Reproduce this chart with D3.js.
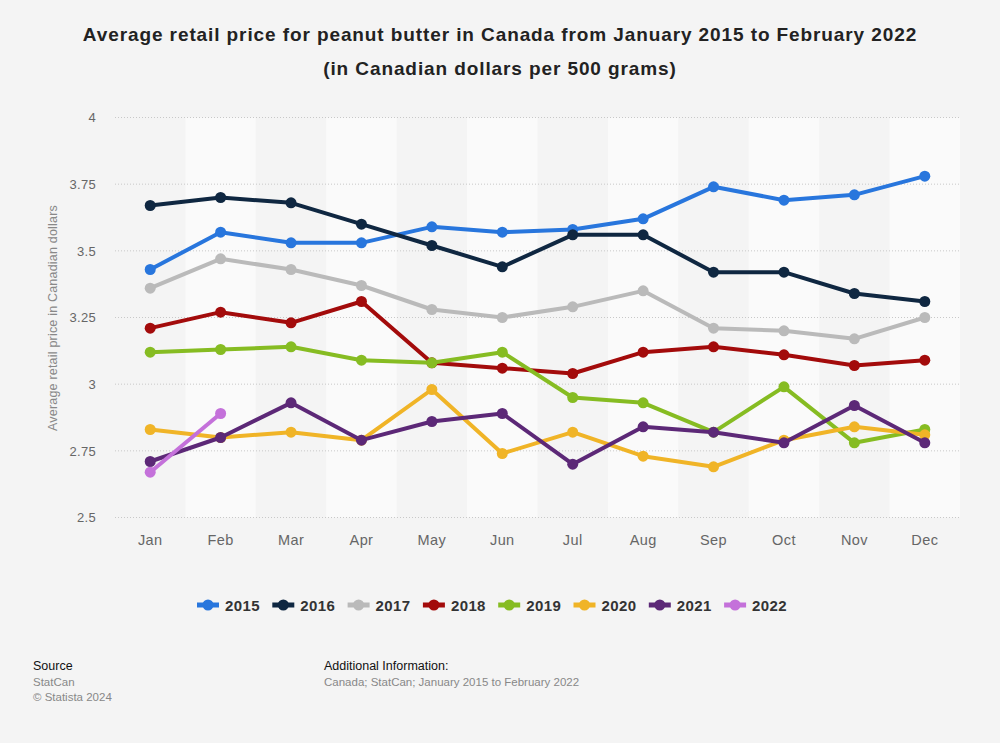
<!DOCTYPE html>
<html><head><meta charset="utf-8">
<script src="https://cdn.jsdelivr.net/npm/d3@7"></script>
<style>body{margin:0;background:#f4f4f4;font-family:"Liberation Sans",Arial,sans-serif;}</style>
</head><body>
<svg id="chart" width="1000" height="743"></svg>
<script>
const months = ["Jan","Feb","Mar","Apr","May","Jun","Jul","Aug","Sep","Oct","Nov","Dec"];
const years = ["2015","2016","2017","2018","2019","2020","2021","2022"];
const colors = ["#2876dd","#0f2741","#bababa","#a30b0b","#86bc22","#f0b427","#5c2877","#c471da"];
const v2015 = [3.43,3.57,3.53,3.53,3.59,3.57,3.58,3.62,3.74,3.69,3.71,3.78];
const v2016 = [3.67,3.70,3.68,3.60,3.52,3.44,3.56,3.56,3.42,3.42,3.34,3.31];
const v2017 = [3.36,3.47,3.43,3.37,3.28,3.25,3.29,3.35,3.21,3.20,3.17,3.25];
const v2018 = [3.21,3.27,3.23,3.31,3.08,3.06,3.04,3.12,3.14,3.11,3.07,3.09];
const v2019 = [3.12,3.13,3.14,3.09,3.08,3.12,2.95,2.93,2.82,2.99,2.78,2.83];
const v2020 = [2.83,2.80,2.82,2.79,2.98,2.74,2.82,2.73,2.69,2.79,2.84,2.81];
const v2021 = [2.71,2.80,2.93,2.79,2.86,2.89,2.70,2.84,2.82,2.78,2.92,2.78];
const v2022 = [2.67,2.89];
const yTicks = [2.5,2.75,3,3.25,3.5,3.75,4];

const seriesValues = [v2015,v2016,v2017,v2018,v2019,v2020,v2021,v2022];
const svg = d3.select("#chart");
const L = 115, R = 960, T = 117.5, B = 517.5;

const x = d3.scaleBand().domain(months).range([L,R]);
const y = d3.scaleLinear().domain([2.5,4]).range([B,T]);

// title
const title = svg.append("text").attr("x",500).attr("text-anchor","middle")
  .attr("font-weight","bold").attr("font-size",19).attr("letter-spacing",0.9).attr("fill","#222");
title.append("tspan").attr("x",500).attr("y",41).text("Average retail price for peanut butter in Canada from January 2015 to February 2022");
title.append("tspan").attr("x",500).attr("y",75).text("(in Canadian dollars per 500 grams)");

// column bands
svg.append("g").selectAll("rect").data(months.filter((m,i)=>i%2===1)).join("rect")
  .attr("x",d=>x(d)).attr("y",T).attr("width",x.bandwidth()).attr("height",B-T)
  .attr("fill","#fafafa");

// gridlines
svg.append("g").selectAll("line").data(yTicks).join("line")
  .attr("x1",L).attr("x2",R).attr("y1",d=>y(d)).attr("y2",d=>y(d))
  .attr("stroke","#c8c8c8").attr("stroke-width",1).attr("stroke-dasharray","1,2");

// y axis
const yAxis = d3.axisLeft(y).tickValues(yTicks).tickSize(0).tickPadding(0).tickFormat(d=>String(d));
const ya = svg.append("g").attr("transform",`translate(96,0)`).call(yAxis);
ya.select(".domain").remove();
ya.selectAll("text").attr("font-size",13).attr("letter-spacing",0.3).attr("fill","#666").attr("font-family","Liberation Sans, Arial, sans-serif");

// x axis
const xAxis = d3.axisBottom(x).tickSize(0).tickPadding(0);
const xa = svg.append("g").attr("transform",`translate(0,${B+17})`).call(xAxis);
xa.select(".domain").remove();
xa.selectAll("text").attr("font-size",14.5).attr("letter-spacing",0.4).attr("fill","#666").attr("font-family","Liberation Sans, Arial, sans-serif");

// y axis title
svg.append("text").attr("transform","translate(57,318) rotate(-90)").attr("text-anchor","middle")
  .attr("font-size",12.5).attr("letter-spacing",0.2).attr("fill","#888").text("Average retail price in Canadian dollars");

// lines
const line = d3.line().x((d,i)=>x(months[i])+x.bandwidth()/2).y(d=>y(d));
seriesValues.forEach((vals,k)=>{
  const g = svg.append("g");
  g.append("path").datum(vals).attr("d",line).attr("fill","none")
    .attr("stroke",colors[k]).attr("stroke-width",4).attr("stroke-linejoin","round");
  g.selectAll("circle").data(vals).join("circle")
    .attr("cx",(d,i)=>x(months[i])+x.bandwidth()/2).attr("cy",d=>y(d)).attr("r",5.5)
    .attr("fill",colors[k]);
});

// legend
const lg = svg.append("g");
years.forEach((yr,k)=>{
  const cx = 208 + k*75.3, cy = 605;
  lg.append("line").attr("x1",cx-11).attr("x2",cx+11).attr("y1",cy).attr("y2",cy)
    .attr("stroke",colors[k]).attr("stroke-width",5);
  lg.append("circle").attr("cx",cx).attr("cy",cy).attr("r",5.5).attr("fill",colors[k]);
  lg.append("text").attr("x",cx+17).attr("y",cy+5.5).attr("font-size",15).attr("letter-spacing",0.4).attr("font-weight","bold")
    .attr("fill","#333").text(yr);
});

// footer
svg.append("text").attr("x",33).attr("y",670).attr("font-size",12.5).attr("fill","#111").text("Source");
svg.append("text").attr("x",33).attr("y",686).attr("font-size",11.5).attr("fill","#888").text("StatCan");
svg.append("text").attr("x",33).attr("y",701).attr("font-size",11.5).attr("fill","#888").text("© Statista 2024");
svg.append("text").attr("x",324).attr("y",670).attr("font-size",12.5).attr("fill","#111").text("Additional Information:");
svg.append("text").attr("x",324).attr("y",686).attr("font-size",11.5).attr("fill","#888").text("Canada; StatCan; January 2015 to February 2022");
</script>
</body></html>
